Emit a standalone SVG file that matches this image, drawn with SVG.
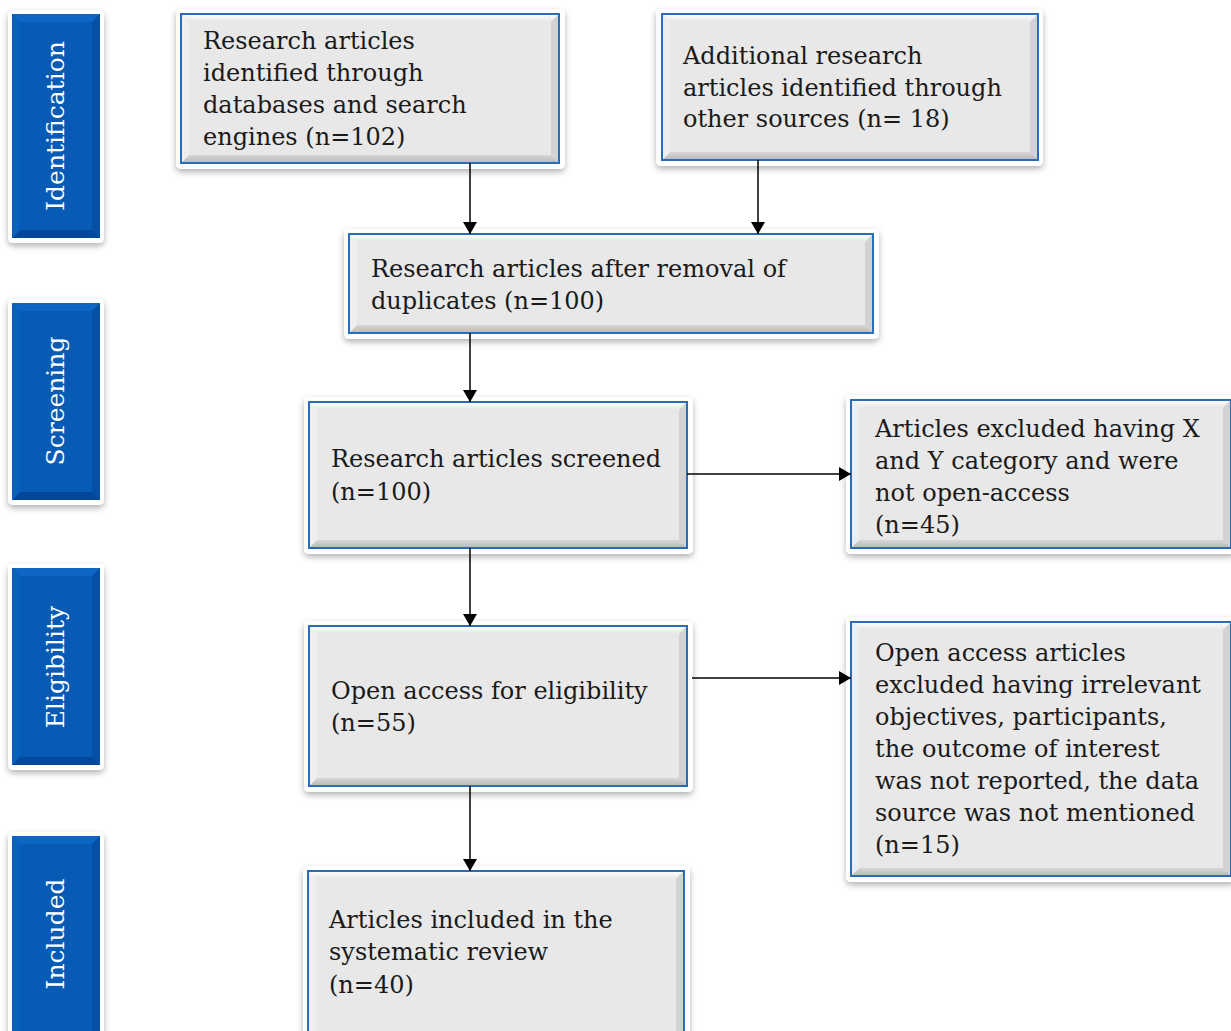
<svg xmlns="http://www.w3.org/2000/svg" width="1231" height="1031" viewBox="0 0 1231 1031">
<defs>
<filter id="sh" x="-10%" y="-10%" width="120%" height="130%">
<feDropShadow dx="0" dy="3" stdDeviation="3" flood-color="#000" flood-opacity="0.3"/>
</filter>
<marker id="ah" viewBox="0 0 12 14" refX="12" refY="7" markerWidth="12" markerHeight="14" markerUnits="userSpaceOnUse" orient="auto">
<path d="M0,0 L12,7 L0,14 Z" fill="#000"/>
</marker>
<linearGradient id="gv" x1="0" y1="0" x2="0" y2="1">
<stop offset="0" stop-color="#ffffff"/><stop offset="1" stop-color="#e6e6e6"/>
</linearGradient>
<linearGradient id="gb" x1="0" y1="0" x2="0" y2="1">
<stop offset="0" stop-color="#d6d6d6"/><stop offset="1" stop-color="#b8b8b8"/>
</linearGradient>
</defs>
<style>
.frame{fill:#fff;filter:url(#sh)}
.face{fill:#e8e8e8}
.bt{fill:url(#gv)}
.bb{fill:url(#gb)}
.bl{fill:#eeeeee}
.br{fill:#d2d2d2}
.edge{fill:none;stroke:#2a6cb8;stroke-width:2}
.sface{fill:#075bb5}
.sbt{fill:#0d66c4}
.sbb{fill:#03479a}
.sbl{fill:#0a60bd}
.sbr{fill:#054fa5}
.txt{font-family:"DejaVu Serif","Liberation Serif",serif;font-size:24px;fill:#1a1a1a}
.stxt{font-family:"DejaVu Serif","Liberation Serif",serif;font-size:25px;fill:#fff}
.con{stroke:#000;stroke-width:1.5;fill:none}
</style>

<g id="stage-identification">
<rect class="frame" x="8" y="10" width="96" height="233" rx="5"/>
<rect class="sface" x="12" y="14" width="88" height="224"/>
<polygon class="sbt" points="12,14 100,14 92,22 20,22"/>
<polygon class="sbb" points="12,238 100,238 92,230 20,230"/>
<polygon class="sbl" points="12,14 20,22 20,230 12,238"/>
<polygon class="sbr" points="100,14 92,22 92,230 100,238"/>
<text class="stxt" transform="translate(64,126) rotate(-90)" text-anchor="middle">Identification</text>
</g>

<g id="stage-screening">
<rect class="frame" x="8" y="299" width="96" height="206" rx="5"/>
<rect class="sface" x="12" y="303" width="88" height="197"/>
<polygon class="sbt" points="12,303 100,303 92,311 20,311"/>
<polygon class="sbb" points="12,500 100,500 92,492 20,492"/>
<polygon class="sbl" points="12,303 20,311 20,492 12,500"/>
<polygon class="sbr" points="100,303 92,311 92,492 100,500"/>
<text class="stxt" transform="translate(64,401) rotate(-90)" text-anchor="middle">Screening</text>
</g>

<g id="stage-eligibility">
<rect class="frame" x="8" y="564" width="96" height="206" rx="5"/>
<rect class="sface" x="12" y="568" width="88" height="197"/>
<polygon class="sbt" points="12,568 100,568 92,576 20,576"/>
<polygon class="sbb" points="12,765 100,765 92,757 20,757"/>
<polygon class="sbl" points="12,568 20,576 20,757 12,765"/>
<polygon class="sbr" points="100,568 92,576 92,757 100,765"/>
<text class="stxt" transform="translate(64,667) rotate(-90)" text-anchor="middle">Eligibility</text>
</g>

<g id="stage-included">
<rect class="frame" x="8" y="832" width="96" height="210" rx="5"/>
<rect class="sface" x="12" y="836" width="88" height="200"/>
<polygon class="sbt" points="12,836 100,836 92,844 20,844"/>
<polygon class="sbl" points="12,836 20,844 20,1036 12,1036"/>
<polygon class="sbr" points="100,836 92,844 92,1036 100,1036"/>
<text class="stxt" transform="translate(64,934) rotate(-90)" text-anchor="middle">Included</text>
</g>

<g id="box-databases">
<rect class="frame" x="176" y="9" width="389" height="160" rx="5"/>
<rect class="face" x="181" y="14" width="378" height="149"/>
<polygon class="bt" points="181,14 559,14 551,22 189,22"/>
<polygon class="bb" points="181,163 559,163 551,155 189,155"/>
<polygon class="bl" points="181,14 189,22 189,155 181,163"/>
<polygon class="br" points="559,14 551,22 551,155 559,163"/>
<rect class="edge" x="181" y="14" width="378" height="149"/>
<text class="txt" x="203" y="49">Research articles</text>
<text class="txt" x="203" y="81">identified through</text>
<text class="txt" x="203" y="113">databases and search</text>
<text class="txt" x="203" y="145">engines (n=102)</text>
</g>

<g id="box-other-sources">
<rect class="frame" x="656" y="9" width="387" height="157" rx="5"/>
<rect class="face" x="662" y="14" width="376" height="146"/>
<polygon class="bt" points="662,14 1038,14 1030,22 670,22"/>
<polygon class="bb" points="662,160 1038,160 1030,152 670,152"/>
<polygon class="bl" points="662,14 670,22 670,152 662,160"/>
<polygon class="br" points="1038,14 1030,22 1030,152 1038,160"/>
<rect class="edge" x="662" y="14" width="376" height="146"/>
<text class="txt" x="683" y="64">Additional research</text>
<text class="txt" x="683" y="96">articles identified through</text>
<text class="txt" x="683" y="127">other sources (n= 18)</text>
</g>

<g id="box-duplicates">
<rect class="frame" x="344" y="229" width="535" height="110" rx="5"/>
<rect class="face" x="349" y="234" width="524" height="99"/>
<polygon class="bt" points="349,234 873,234 865,242 357,242"/>
<polygon class="bb" points="349,333 873,333 865,325 357,325"/>
<polygon class="bl" points="349,234 357,242 357,325 349,333"/>
<polygon class="br" points="873,234 865,242 865,325 873,333"/>
<rect class="edge" x="349" y="234" width="524" height="99"/>
<text class="txt" x="371" y="277">Research articles after removal of</text>
<text class="txt" x="371" y="309">duplicates (n=100)</text>
</g>

<g id="box-screened">
<rect class="frame" x="304" y="397" width="389" height="157" rx="5"/>
<rect class="face" x="309" y="402" width="378" height="146"/>
<polygon class="bt" points="309,402 687,402 679,410 317,410"/>
<polygon class="bb" points="309,548 687,548 679,540 317,540"/>
<polygon class="bl" points="309,402 317,410 317,540 309,548"/>
<polygon class="br" points="687,402 679,410 679,540 687,548"/>
<rect class="edge" x="309" y="402" width="378" height="146"/>
<text class="txt" x="331" y="467">Research articles screened</text>
<text class="txt" x="331" y="500">(n=100)</text>
</g>

<g id="box-excluded-xy">
<rect class="frame" x="846" y="395" width="390" height="159" rx="5"/>
<rect class="face" x="851" y="400" width="380" height="148"/>
<polygon class="bt" points="851,400 1231,400 1223,408 859,408"/>
<polygon class="bb" points="851,548 1231,548 1223,540 859,540"/>
<polygon class="bl" points="851,400 859,408 859,540 851,548"/>
<polygon class="br" points="1231,400 1223,408 1223,540 1231,548"/>
<rect class="edge" x="851" y="400" width="380" height="148"/>
<text class="txt" x="875" y="437">Articles excluded having X</text>
<text class="txt" x="875" y="469">and Y category and were</text>
<text class="txt" x="875" y="501">not open-access</text>
<text class="txt" x="875" y="533">(n=45)</text>
</g>

<g id="box-eligibility">
<rect class="frame" x="304" y="621" width="389" height="171" rx="5"/>
<rect class="face" x="309" y="626" width="378" height="160"/>
<polygon class="bt" points="309,626 687,626 679,634 317,634"/>
<polygon class="bb" points="309,786 687,786 679,778 317,778"/>
<polygon class="bl" points="309,626 317,634 317,778 309,786"/>
<polygon class="br" points="687,626 679,634 679,778 687,786"/>
<rect class="edge" x="309" y="626" width="378" height="160"/>
<text class="txt" x="331" y="699">Open access for eligibility</text>
<text class="txt" x="331" y="731">(n=55)</text>
</g>

<g id="box-excluded-irrelevant">
<rect class="frame" x="846" y="617" width="390" height="265" rx="5"/>
<rect class="face" x="851" y="622" width="380" height="254"/>
<polygon class="bt" points="851,622 1231,622 1223,630 859,630"/>
<polygon class="bb" points="851,876 1231,876 1223,868 859,868"/>
<polygon class="bl" points="851,622 859,630 859,868 851,876"/>
<polygon class="br" points="1231,622 1223,630 1223,868 1231,876"/>
<rect class="edge" x="851" y="622" width="380" height="254"/>
<text class="txt" x="875" y="661">Open access articles</text>
<text class="txt" x="875" y="693">excluded having irrelevant</text>
<text class="txt" x="875" y="725">objectives, participants,</text>
<text class="txt" x="875" y="757">the outcome of interest</text>
<text class="txt" x="875" y="789">was not reported, the data</text>
<text class="txt" x="875" y="821">source was not mentioned</text>
<text class="txt" x="875" y="853">(n=15)</text>
</g>

<g id="box-included">
<rect class="frame" x="303" y="866" width="387" height="175" rx="5"/>
<rect class="face" x="308" y="871" width="376" height="170"/>
<polygon class="bt" points="308,871 684,871 676,879 316,879"/>
<polygon class="bl" points="308,871 316,879 316,1031 308,1031"/>
<polygon class="br" points="684,871 676,879 676,1031 684,1031"/>
<rect class="edge" x="308" y="871" width="376" height="170"/>
<text class="txt" x="329" y="928">Articles included in the</text>
<text class="txt" x="329" y="960">systematic review</text>
<text class="txt" x="329" y="993">(n=40)</text>
</g>

<g id="connectors">
<line class="con" x1="470" y1="163" x2="470" y2="234" marker-end="url(#ah)"/>
<line class="con" x1="758" y1="160" x2="758" y2="234" marker-end="url(#ah)"/>
<line class="con" x1="470" y1="333" x2="470" y2="402" marker-end="url(#ah)"/>
<line class="con" x1="687" y1="474" x2="851" y2="474" marker-end="url(#ah)"/>
<line class="con" x1="470" y1="548" x2="470" y2="626" marker-end="url(#ah)"/>
<line class="con" x1="692" y1="678" x2="851" y2="678" marker-end="url(#ah)"/>
<line class="con" x1="470" y1="786" x2="470" y2="871" marker-end="url(#ah)"/>
</g>
</svg>
